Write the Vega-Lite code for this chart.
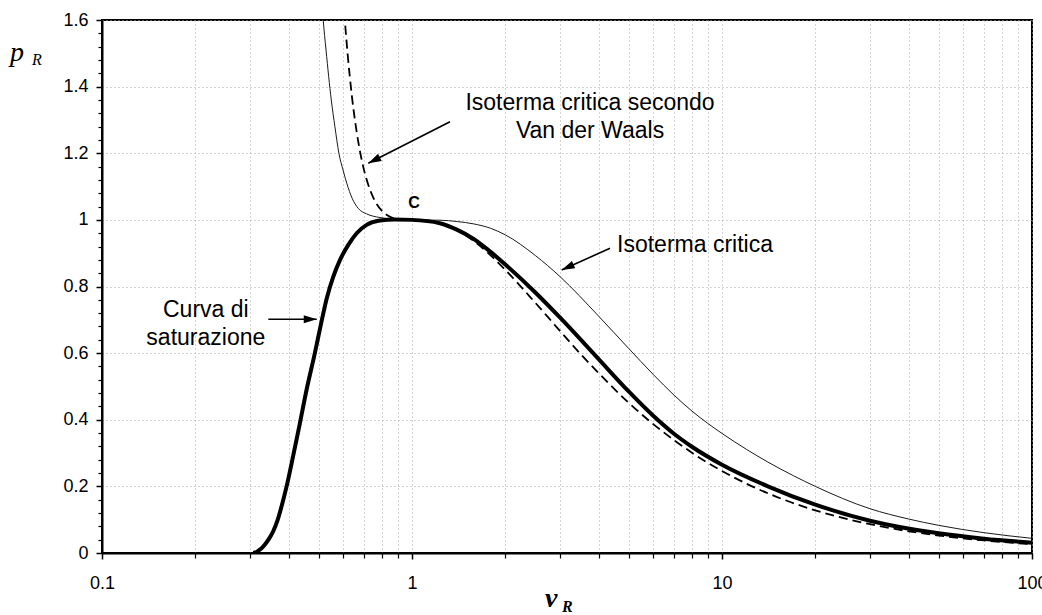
{
  "$schema": "https://vega.github.io/schema/vega-lite/v6.json",
  "width": 930,
  "height": 533,
  "autosize": {"type": "none"},
  "padding": {"left": 102, "top": 20, "right": 10, "bottom": 62},
  "background": "white",
  "config": {
    "view": {"stroke": "black", "strokeWidth": 2},
    "font": "Liberation Sans",
    "axis": {
      "labelFont": "Liberation Sans",
      "labelFontSize": 18,
      "labelColor": "black",
      "tickColor": "black",
      "domainColor": "black",
      "domainWidth": 2,
      "gridColor": "#a6a6a6",
      "gridDash": [1, 3],
      "gridWidth": 1,
      "title": null
    }
  },
  "datasets": {
    "saturazione": [
      {"v": 0.308, "p": 0},
      {"v": 0.316, "p": 0.004},
      {"v": 0.325, "p": 0.012},
      {"v": 0.335, "p": 0.025},
      {"v": 0.346, "p": 0.043},
      {"v": 0.357, "p": 0.066},
      {"v": 0.368, "p": 0.097},
      {"v": 0.38, "p": 0.142},
      {"v": 0.394, "p": 0.2},
      {"v": 0.414, "p": 0.293},
      {"v": 0.435, "p": 0.39},
      {"v": 0.457, "p": 0.49},
      {"v": 0.486, "p": 0.6},
      {"v": 0.508, "p": 0.685},
      {"v": 0.531, "p": 0.765},
      {"v": 0.557, "p": 0.829},
      {"v": 0.586, "p": 0.88},
      {"v": 0.623, "p": 0.925},
      {"v": 0.663, "p": 0.96},
      {"v": 0.714, "p": 0.985},
      {"v": 0.788, "p": 0.998},
      {"v": 0.88, "p": 1.001},
      {"v": 1.0, "p": 1.0},
      {"v": 1.23, "p": 0.99},
      {"v": 1.4, "p": 0.97},
      {"v": 1.58, "p": 0.943},
      {"v": 1.76, "p": 0.91},
      {"v": 2.0, "p": 0.866},
      {"v": 2.5, "p": 0.782},
      {"v": 3.0, "p": 0.707},
      {"v": 4.0, "p": 0.582},
      {"v": 5.0, "p": 0.485},
      {"v": 6.0, "p": 0.412},
      {"v": 7.0, "p": 0.358},
      {"v": 8.0, "p": 0.319},
      {"v": 10.0, "p": 0.265},
      {"v": 14.0, "p": 0.201},
      {"v": 20.0, "p": 0.145},
      {"v": 30.0, "p": 0.097},
      {"v": 50.0, "p": 0.059},
      {"v": 70.0, "p": 0.043},
      {"v": 100.0, "p": 0.031}
    ],
    "critica": [
      {"v": 0.505, "p": 1.72},
      {"v": 0.517, "p": 1.6},
      {"v": 0.528, "p": 1.51},
      {"v": 0.549, "p": 1.36},
      {"v": 0.564, "p": 1.28},
      {"v": 0.581, "p": 1.2},
      {"v": 0.599, "p": 1.15},
      {"v": 0.616, "p": 1.11},
      {"v": 0.641, "p": 1.065},
      {"v": 0.67, "p": 1.035},
      {"v": 0.714, "p": 1.018},
      {"v": 0.788, "p": 1.007},
      {"v": 0.88, "p": 1.002},
      {"v": 1.0, "p": 1.0},
      {"v": 1.23, "p": 0.999},
      {"v": 1.4, "p": 0.995},
      {"v": 1.58, "p": 0.988},
      {"v": 1.79, "p": 0.975},
      {"v": 2.0, "p": 0.955},
      {"v": 2.5, "p": 0.893},
      {"v": 3.0, "p": 0.83},
      {"v": 4.0, "p": 0.711},
      {"v": 5.0, "p": 0.614},
      {"v": 6.0, "p": 0.536},
      {"v": 7.0, "p": 0.474},
      {"v": 8.0, "p": 0.426},
      {"v": 9.0, "p": 0.389},
      {"v": 10.0, "p": 0.359},
      {"v": 12.0, "p": 0.311},
      {"v": 14.0, "p": 0.274},
      {"v": 17.0, "p": 0.232},
      {"v": 20.0, "p": 0.2},
      {"v": 30.0, "p": 0.133},
      {"v": 40.0, "p": 0.102},
      {"v": 50.0, "p": 0.083},
      {"v": 70.0, "p": 0.061},
      {"v": 100.0, "p": 0.044}
    ],
    "vanderwaals": [
      {"v": 0.6, "p": 1.667},
      {"v": 0.61, "p": 1.576},
      {"v": 0.62, "p": 1.498},
      {"v": 0.64, "p": 1.371},
      {"v": 0.66, "p": 1.276},
      {"v": 0.68, "p": 1.204},
      {"v": 0.7, "p": 1.15},
      {"v": 0.72, "p": 1.11},
      {"v": 0.75, "p": 1.067},
      {"v": 0.8, "p": 1.027},
      {"v": 0.85, "p": 1.009},
      {"v": 0.9, "p": 1.002},
      {"v": 0.95, "p": 1.0},
      {"v": 1.0, "p": 1.0},
      {"v": 1.1, "p": 0.999},
      {"v": 1.2, "p": 0.994},
      {"v": 1.4, "p": 0.969},
      {"v": 1.6, "p": 0.933},
      {"v": 1.8, "p": 0.892},
      {"v": 2.0, "p": 0.85},
      {"v": 2.5, "p": 0.751},
      {"v": 3.0, "p": 0.667},
      {"v": 3.5, "p": 0.597},
      {"v": 4.0, "p": 0.54},
      {"v": 5.0, "p": 0.451},
      {"v": 6.0, "p": 0.387},
      {"v": 7.0, "p": 0.339},
      {"v": 8.0, "p": 0.301},
      {"v": 10.0, "p": 0.246},
      {"v": 12.0, "p": 0.208},
      {"v": 15.0, "p": 0.1685},
      {"v": 20.0, "p": 0.128},
      {"v": 30.0, "p": 0.0866},
      {"v": 40.0, "p": 0.0653},
      {"v": 50.0, "p": 0.0525},
      {"v": 70.0, "p": 0.0377},
      {"v": 100.0, "p": 0.0265}
    ],
    "frecce": [
      {"v": 1.3262, "p": 1.2948, "v2": 0.7228, "p2": 1.1699, "heading": 153.0},
      {"v": 4.352, "p": 0.9147, "v2": 3.0399, "p2": 0.8496, "heading": 155.8},
      {"v": 0.3439, "p": 0.7016, "v2": 0.4928, "p2": 0.7016, "heading": 0}
    ],
    "etichette": [
      {"v": 3.752, "p": 1.33, "label": "Isoterma critica secondo\nVan der Waals", "align": "center"},
      {"v": 4.585, "p": 0.9045, "label": "Isoterma critica", "align": "left"},
      {"v": 0.2162, "p": 0.7095, "label": "Curva di\nsaturazione", "align": "center"}
    ]
  },
  "encoding": {
    "x": {
      "field": "v",
      "type": "quantitative",
      "scale": {"type": "log", "domain": [0.1, 100], "nice": false},
      "axis": null
    },
    "y": {
      "field": "p",
      "type": "quantitative",
      "scale": {"domain": [0, 1.6], "nice": false, "zero": false},
      "axis": null
    }
  },
  "layer": [
    {
      "data": {"name": "critica"},
      "mark": {"type": "line", "clip": true, "color": "#1a1a1a", "strokeWidth": 1, "interpolate": "monotone"},
      "encoding": {
        "x": {
          "field": "v",
          "type": "quantitative",
          "scale": {"type": "log", "domain": [0.1, 100], "nice": false},
          "axis": {
            "orient": "bottom",
            "values": [0.2, 0.3, 0.4, 0.5, 0.6, 0.7, 0.8, 0.9, 2, 3, 4, 5, 6, 7, 8, 9, 20, 30, 40, 50, 60, 70, 80, 90],
            "labels": false,
            "domain": false,
            "ticks": true,
            "tickSize": 5,
            "tickWidth": 1.2,
            "grid": true
          }
        },
        "y": {
          "field": "p",
          "type": "quantitative",
          "scale": {"domain": [0, 1.6], "nice": false, "zero": false},
          "axis": {
            "orient": "left",
            "values": [0.04, 0.08, 0.12, 0.16, 0.24, 0.28, 0.32, 0.36, 0.44, 0.48, 0.52, 0.56, 0.64, 0.68, 0.72, 0.76, 0.84, 0.88, 0.92, 0.96, 1.04, 1.08, 1.12, 1.16, 1.24, 1.28, 1.32, 1.36, 1.44, 1.48, 1.52, 1.56],
            "labels": false,
            "domain": false,
            "ticks": true,
            "tickSize": 4,
            "tickWidth": 1.2,
            "grid": false
          }
        }
      }
    },
    {
      "data": {"name": "vanderwaals"},
      "mark": {"type": "line", "clip": true, "color": "black", "strokeWidth": 1.8, "strokeDash": [9, 5], "interpolate": "monotone"},
      "encoding": {
        "x": {
          "field": "v",
          "type": "quantitative",
          "scale": {"type": "log", "domain": [0.1, 100], "nice": false},
          "axis": {
            "orient": "bottom",
            "values": [0.1, 1, 10, 100],
            "format": "~g",
            "labelFlush": false,
            "labelPadding": 15,
            "tickSize": 6,
            "tickWidth": 1.5,
            "grid": true
          }
        },
        "y": {
          "field": "p",
          "type": "quantitative",
          "scale": {"domain": [0, 1.6], "nice": false, "zero": false},
          "axis": {
            "orient": "left",
            "values": [0, 0.2, 0.4, 0.6, 0.8, 1, 1.2, 1.4, 1.6],
            "format": "~g",
            "labelFlush": false,
            "labelPadding": 8,
            "tickSize": 6,
            "tickWidth": 1.5,
            "grid": true
          }
        }
      }
    },
    {
      "data": {"name": "saturazione"},
      "mark": {"type": "line", "clip": true, "color": "black", "strokeWidth": 4, "interpolate": "monotone"}
    },
    {
      "data": {"name": "frecce"},
      "mark": {"type": "rule", "color": "black", "strokeWidth": 1.6},
      "encoding": {
        "x2": {"field": "v2"},
        "y2": {"field": "p2"}
      }
    },
    {
      "data": {"name": "frecce"},
      "mark": {"type": "point", "shape": "M0,0L-2,-0.62L-2,0.62Z", "filled": true, "color": "black", "opacity": 1, "size": 169},
      "encoding": {
        "x": {"field": "v2", "type": "quantitative"},
        "y": {"field": "p2", "type": "quantitative"},
        "angle": {"field": "heading", "type": "quantitative", "scale": null}
      }
    },
    {
      "data": {"name": "etichette"},
      "transform": [{"filter": "datum.align === 'center'"}],
      "mark": {"type": "text", "font": "Liberation Sans", "fontSize": 23, "color": "black", "align": "center", "baseline": "alphabetic", "lineBreak": "\n", "lineHeight": 28},
      "encoding": {"text": {"field": "label"}}
    },
    {
      "data": {"name": "etichette"},
      "transform": [{"filter": "datum.align === 'left'"}],
      "mark": {"type": "text", "font": "Liberation Sans", "fontSize": 23, "color": "black", "align": "left", "baseline": "alphabetic"},
      "encoding": {"text": {"field": "label"}}
    },
    {
      "data": {"values": [{"v": 1.015, "p": 1.035, "label": "C"}]},
      "mark": {"type": "text", "font": "Liberation Sans", "fontSize": 16, "fontWeight": "bold", "color": "black", "align": "center", "baseline": "alphabetic"},
      "encoding": {"text": {"field": "label"}}
    },
    {
      "data": {"values": [{"v": 0.05048, "p": 1.477, "label": "p"}]},
      "mark": {"type": "text", "font": "Liberation Serif", "fontSize": 28, "fontStyle": "italic", "color": "black", "align": "left", "baseline": "alphabetic"},
      "encoding": {"text": {"field": "label"}}
    },
    {
      "data": {"values": [{"v": 0.05943, "p": 1.465, "label": "R"}]},
      "mark": {"type": "text", "font": "Liberation Serif", "fontSize": 16, "fontStyle": "italic", "color": "black", "align": "left", "baseline": "alphabetic"},
      "encoding": {"text": {"field": "label"}}
    },
    {
      "data": {"values": [{"v": 2.686, "p": -0.1621, "label": "v"}]},
      "mark": {"type": "text", "font": "Liberation Serif", "fontSize": 28, "fontStyle": "italic", "fontWeight": "bold", "color": "black", "align": "left", "baseline": "alphabetic"},
      "encoding": {"text": {"field": "label"}}
    },
    {
      "data": {"values": [{"v": 3.047, "p": -0.1771, "label": "R"}]},
      "mark": {"type": "text", "font": "Liberation Serif", "fontSize": 16, "fontStyle": "italic", "fontWeight": "bold", "color": "black", "align": "left", "baseline": "alphabetic"},
      "encoding": {"text": {"field": "label"}}
    }
  ],
  "resolve": {"axis": {"x": "independent", "y": "independent"}}
}
